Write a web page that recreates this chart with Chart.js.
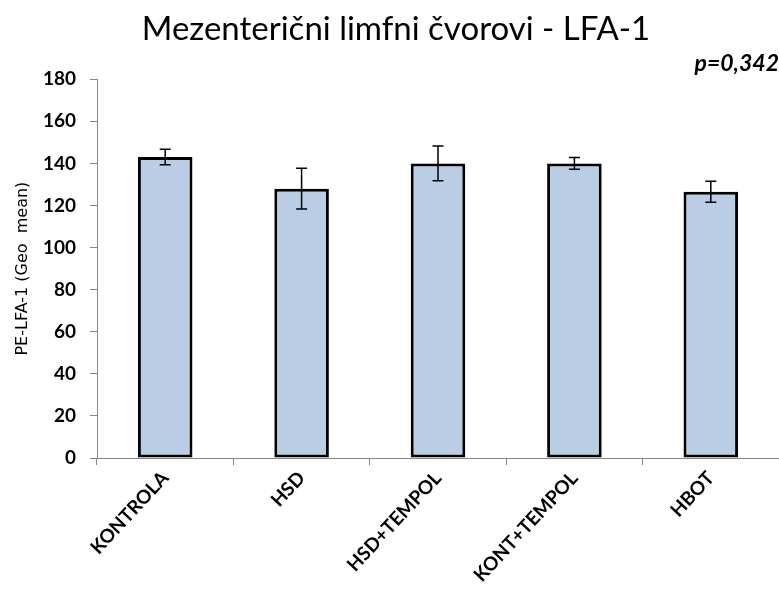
<!DOCTYPE html>
<html lang="sr">
<head>
<meta charset="UTF-8">
<title>Mezenterični limfni čvorovi - LFA-1</title>
<style>
  html, body { margin: 0; padding: 0; background: #fff; }
  #wrap { width: 779px; height: 598px; }
</style>
</head>
<body>
<div id="wrap"><canvas id="myChart" width="779" height="598"></canvas></div>
<script src="https://cdn.jsdelivr.net/npm/chart.js@4"></script>
<script>
  const groups = ['KONTROLA', 'HSD', 'HSD+TEMPOL', 'KONT+TEMPOL', 'HBOT'];
  const means = [143, 128, 140, 140, 126.5];
  const errors = [3.7, 9.7, 8.2, 2.8, 5];
  const yTicks = [0, 20, 40, 60, 80, 100, 120, 140, 160, 180];

  // draws the +/- error whiskers on top of each bar
  const errorBars = {
    id: 'errorBars',
    afterDatasetsDraw(chart) {
      const c = chart.ctx;
      const y = chart.scales.y;
      const meta = chart.getDatasetMeta(0);
      c.save();
      c.strokeStyle = '#000';
      c.lineWidth = 1.5;
      meta.data.forEach((bar, i) => {
        const top = y.getPixelForValue(means[i] + errors[i]);
        const bot = y.getPixelForValue(means[i] - errors[i]);
        const x = bar.x;
        c.beginPath();
        c.moveTo(x, top); c.lineTo(x, bot);
        c.moveTo(x - 5.5, top); c.lineTo(x + 5.5, top);
        c.moveTo(x - 5.5, bot); c.lineTo(x + 5.5, bot);
        c.stroke();
      });
      c.restore();
    }
  };

  var ctx = document.getElementById('myChart').getContext('2d');
  new Chart(ctx, {
    type: 'bar',
    data: {
      labels: groups,
      datasets: [{
        data: means,
        backgroundColor: '#b9cde5',
        borderColor: '#000',
        borderWidth: 3,
        borderSkipped: false,
        barPercentage: 0.4,
        categoryPercentage: 1.0
      }]
    },
    options: {
      responsive: false,
      animation: false,
      layout: { padding: { left: 13, right: 0, top: 4, bottom: 0 } },
      plugins: {
        legend: { display: false },
        tooltip: { enabled: false },
        title: {
          display: true,
          text: 'Mezenterični limfni čvorovi - LFA-1',
          color: '#000',
          font: { family: 'Lato', size: 33, weight: 'normal' },
          padding: { top: 6, bottom: 0 }
        },
        subtitle: {
          display: true,
          text: 'p=0,342',
          align: 'end',
          color: '#000',
          font: { family: 'Lato', size: 23, weight: 'bold', style: 'italic' },
          padding: { top: 0, bottom: 2 }
        }
      },
      scales: {
        x: {
          offset: true,
          afterFit(scale) { scale.height = 140; },
          grid: { display: true, offset: true, drawOnChartArea: false, tickLength: 7, color: '#868686' },
          border: { color: '#868686' },
          ticks: {
            color: '#000',
            font: { family: 'Lato', size: 19, weight: 'bold' },
            maxRotation: 47, minRotation: 47,
            padding: 2
          }
        },
        y: {
          min: 0, max: 180,
          afterBuildTicks(scale) { scale.ticks = yTicks.map(v => ({ value: v })); },
          afterFit(scale) { scale.width = 84; },
          grid: { display: true, drawOnChartArea: false, tickLength: 7, color: '#868686' },
          border: { color: '#868686' },
          title: {
            display: true,
            text: 'PE-LFA-1 (Geo  mean)',
            color: '#000',
            font: { family: 'DejaVu Sans', size: 16 },
            padding: { top: 0, bottom: 4 }
          },
          ticks: {
            color: '#000',
            font: { family: 'Lato', size: 19, weight: 'bold' },
            padding: 14
          }
        }
      }
    },
    plugins: [errorBars]
  });
</script>
</body>
</html>
